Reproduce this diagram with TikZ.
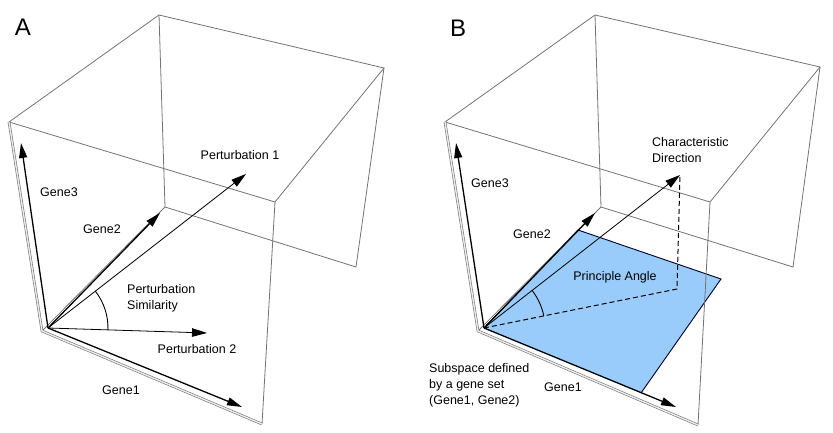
\documentclass[tikz,border=0pt]{standalone}
\usepackage{fontspec}
\setmainfont{Liberation Sans}
\usetikzlibrary{arrows.meta}
\definecolor{planeblue}{RGB}{153,204,250}
\definecolor{edgegray}{RGB}{115,115,115}
\begin{document}
\begin{tikzpicture}[x=1pt,y=1pt,
  edge/.style={draw=edgegray,line width=0.8pt},
  frontedge/.style={draw=edgegray,line width=0.6pt,double=white!85!gray,double distance=1.4pt},
  genearrow/.style={draw=black,line width=1.3pt,-{Triangle[length=15pt,width=8pt]}},
  thinarrow/.style={draw=black,line width=0.8pt,-{Triangle[length=15pt,width=8.5pt]}},
  lbl/.style={font=\fontsize{12.5}{16}\selectfont,inner sep=0pt},
  panel/.style={font=\fontsize{24}{28}\selectfont,inner sep=0pt}]
\useasboundingbox (0,0) rectangle (833,433);
% ---------------- Panel A ----------------
\coordinate (a1) at (159,418);
\coordinate (a2) at (384,365);
\coordinate (a3) at (275,231);
\coordinate (a4) at (9,311);
\coordinate (a5) at (42,102);
\coordinate (a6) at (262,9);
\coordinate (a7) at (356,166);
\coordinate (a8) at (165,226);
\draw[edge] (a1) -- (a2) -- (a3) -- (a4) -- cycle;
\draw[edge] (a2) -- (a7) -- (a8) -- (a1);
\draw[edge] (a3) -- (a6);
\draw[edge] (a8) -- (a5);
\draw[frontedge] (a4) -- (a5) -- (a6);
\coordinate (oA) at (48,105);
\coordinate (g3A) at (21,290);
\coordinate (g1A) at (242,26);
\coordinate (g2A) at (160,220);
\coordinate (p1A) at (246,259);
\coordinate (p2A) at (207,100);
\draw[genearrow] (oA) -- (g3A);
\draw[genearrow] (oA) -- (g1A);
\draw[genearrow] (oA) -- (g2A);
\draw[thinarrow] (oA) -- (p1A);
\draw[thinarrow] (oA) -- (p2A);
\draw[line width=0.9pt] ([shift=(-1.8:60)]oA) arc[start angle=-1.8,end angle=37.9,radius=60];
\node[panel] (labA) at (23,406) {A};
\node[lbl] (lp1A) at (240,278) {Perturbation 1};
\node[lbl] (lg3A) at (59,241) {Gene3};
\node[lbl] (lg2A) at (102,204) {Gene2};
\node[lbl,anchor=west,align=left] (lsim) at (127,135) {Perturbation\\Similarity};
\node[lbl] (lp2A) at (197,84) {Perturbation 2};
\node[lbl] (lg1A) at (121,43) {Gene1};
% ---------------- Panel B ----------------
\coordinate (b1) at (595,418);
\coordinate (b2) at (820,366);
\coordinate (b3) at (710,231);
\coordinate (b4) at (445,311);
\coordinate (b5) at (478,102);
\coordinate (b6) at (698,8);
\coordinate (b7) at (793,166);
\coordinate (b8) at (601,226);
\coordinate (oB) at (484,105);
\coordinate (q1) at (578,203);
\coordinate (q2) at (721,154);
\coordinate (q3) at (641,40);
\fill[planeblue] (oB) -- (q1) -- (q2) -- (q3) -- cycle;
\draw[line width=0.9pt,draw=black!85!blue] (oB) -- (q1) -- (q2) -- (q3);
\draw[edge] (b1) -- (b2) -- (b3) -- (b4) -- cycle;
\draw[edge] (b2) -- (b7) -- (b8) -- (b1);
\draw[edge] (b3) -- (b6);
\draw[edge] (b8) -- (b5);
\draw[frontedge] (b4) -- (b5) -- (b6);
\coordinate (g3B) at (456,290);
\coordinate (g1B) at (676,26);
\coordinate (g2B) at (595,220);
\coordinate (cdB) at (680,258);
\coordinate (prB) at (677,144);
\draw[genearrow] (oB) -- (g3B);
\draw[genearrow] (oB) -- (g1B);
\draw[genearrow] (oB) -- (g2B);
\draw[thinarrow] (oB) -- (cdB);
\draw[line width=1pt,dash pattern=on 5pt off 3pt] (oB) -- (prB) -- (cdB);
\draw[line width=0.9pt] ([shift=(11.4:61)]oB) arc[start angle=11.4,end angle=38,radius=61];
\node[panel] (labB) at (458,405) {B};
\node[lbl,anchor=west,align=left] (lcd) at (652,283) {Characteristic\\Direction};
\node[lbl] (lg3B) at (490,250) {Gene3};
\node[lbl] (lg2B) at (532,199) {Gene2};
\node[lbl] (lpa) at (615,156) {Principle Angle};
\node[lbl,anchor=west,align=left] (lsub) at (429,48) {Subspace defined\\by a gene set\\(Gene1, Gene2)};
\node[lbl] (lg1B) at (563,46) {Gene1};
\end{tikzpicture}
\end{document}
